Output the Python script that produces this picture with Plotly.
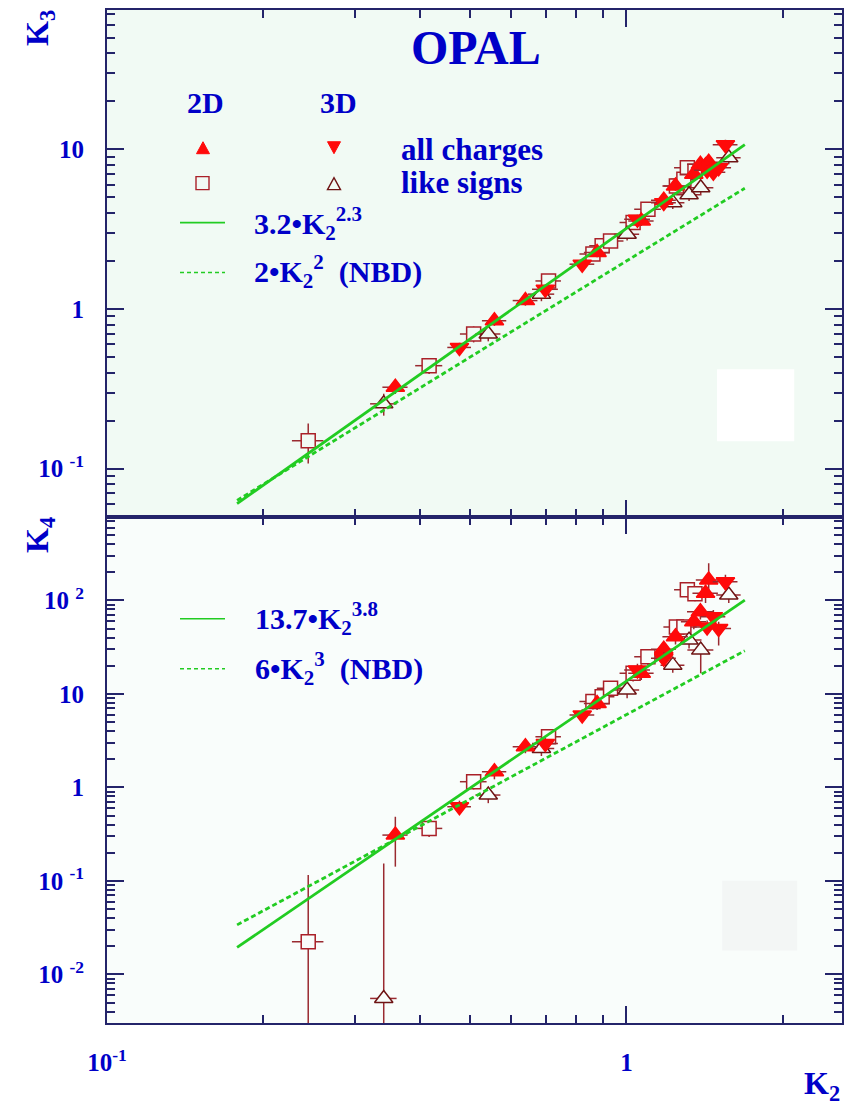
import plotly.graph_objects as go

# ---------------- data ----------------
# 2D, all charges (filled up-triangles)
a_k2 = [0.359, 0.557, 0.639, 0.878, 1.068, 1.18, 1.243, 1.348, 1.388, 1.42, 1.44]
a_k2_err = [0.020, 0.030, 0.035, 0.050, 0.060, 0.065, 0.070, 0.075, 0.080, 0.080, 0.080]
a_k3 = [0.324, 0.845, 1.13, 2.26, 3.56, 4.8, 5.9, 7.0, 8.06, 7.9, 8.3]
a_k3_err = [0.03, 0.06, 0.08, 0.15, 0.25, 0.35, 0.40, 0.50, 0.60, 0.60, 0.60]
a_k4 = [0.309, 1.47, 2.72, 7.91, 16.6, 30.0, 40.8, 59.0, 75.5, 119.0, 165.0]
a_k4_up = [0.176, 0.25, 0.40, 1.2, 2.5, 5.0, 7.0, 10.0, 13.0, 25.0, 85.0]
a_k4_dn = [0.167, 0.25, 0.40, 1.2, 2.5, 5.0, 7.0, 10.0, 13.0, 25.0, 40.0]

# 3D, all charges (filled down-triangles)
b_k2 = [0.477, 0.698, 0.822, 1.05, 1.18, 1.43, 1.47, 1.505, 1.551]
b_k2_err = [0.025, 0.040, 0.045, 0.060, 0.065, 0.080, 0.080, 0.085, 0.085]
b_k3 = [0.575, 1.33, 1.91, 3.65, 4.64, 7.4, 7.2, 7.67, 10.7]
b_k3_err = [0.04, 0.09, 0.13, 0.25, 0.33, 0.50, 0.50, 0.55, 0.80]
b_k4 = [0.621, 2.95, 5.93, 18.0, 24.0, 52.0, 67.0, 50.0, 158.0]
b_k4_up = [0.10, 0.45, 0.9, 3.0, 4.0, 9.0, 12.0, 9.0, 30.0]
b_k4_dn = [0.10, 0.45, 0.9, 3.0, 4.0, 9.0, 12.0, 17.0, 30.0]

# 2D, like signs (open squares)
c_k2 = [0.244, 0.417, 0.508, 0.708, 0.862, 0.898, 0.932, 1.03, 1.10, 1.248, 1.29, 1.31, 1.355]
c_k2_err = [0.017, 0.025, 0.030, 0.040, 0.050, 0.050, 0.055, 0.060, 0.065, 0.070, 0.075, 0.075, 0.080]
c_k3 = [0.150, 0.442, 0.698, 1.50, 2.21, 2.49, 2.67, 3.48, 4.22, 5.90, 6.49, 7.67, 7.3]
c_k3_err = [0.042, 0.05, 0.08, 0.15, 0.20, 0.22, 0.24, 0.30, 0.35, 0.50, 0.55, 0.65, 0.60]
c_k4 = [0.0223, 0.364, 1.15, 3.48, 8.3, 9.31, 11.5, 16.6, 24.9, 52.0, 52.0, 130.0, 118.0]
c_k4_up = [0.093, 0.07, 0.20, 0.6, 1.5, 1.6, 2.0, 3.0, 4.5, 9.0, 9.0, 22.0, 20.0]
c_k4_dn = [0.0222, 0.07, 0.20, 0.6, 1.5, 1.6, 2.0, 3.0, 4.5, 9.0, 9.0, 22.0, 20.0]

# 3D, like signs (open up-triangles)
d_k2 = [0.341, 0.542, 0.686, 1.003, 1.228, 1.32, 1.39, 1.574]
d_k2_err = [0.020, 0.030, 0.040, 0.055, 0.065, 0.075, 0.080, 0.085]
d_k3 = [0.255, 0.698, 1.24, 2.94, 4.64, 5.2, 5.75, 8.86]
d_k3_err = [0.04, 0.07, 0.12, 0.25, 0.40, 0.45, 0.50, 0.80]
d_k4 = [0.00553, 0.828, 2.61, 11.0, 20.3, 37.6, 29.4, 114.0]
d_k4_up = [0.148, 0.15, 0.45, 2.0, 3.5, 7.0, 6.0, 20.0]
d_k4_dn = [0.0055, 0.15, 0.45, 2.0, 3.5, 7.0, 12.8, 20.0]

# fitted / NBD curves: coefficient, exponent
fit_k3 = (3.2, 2.3)
nbd_k3 = (2.0, 2.0)
fit_k4 = (13.7, 3.8)
nbd_k4 = (6.0, 3.0)
curve_k2 = [0.178, 1.69]

# axis ticks
x_ticks = [0.1, 1]
x_ticktext = ["10<sup>-1</sup>", "1"]
y3_ticks = [0.1, 1, 10]
y3_ticktext = ["10 <sup>-1</sup>", "1", "10"]
y4_ticks = [0.01, 0.1, 1, 10, 100]
y4_ticktext = ["10 <sup>-2</sup>", "10 <sup>-1</sup>", "1", "10", "10 <sup>2</sup>"]

# ---------------- style ----------------
TOP_BG = "#f1faf4"
BOT_BG = "#f9fdfb"
RED = "#ff0a0a"
SQ = "#aa2028"
TRI = "#6e1414"
ERR = "#9a2a30"
GREEN = "#22cc22"
BLUE = "#0000c8"
AXC = "#24246a"
FONT = "Liberation Serif"

W, H = 854, 1105
L, R, T, B = 107, 12, 8, 82
PW, PH = W - L - R, H - T - B


def xp(px):
    return (px - L) / PW


def yp(py):
    return (H - B - py) / PH


fig = go.Figure()


def add_series(k2, k2e, yv, yup, ydn, xa, ya, symbol, fill, lc, size):
    fig.add_trace(go.Scatter(
        x=k2, y=yv, mode="markers", xaxis=xa, yaxis=ya,
        error_x=dict(type="data", array=k2e, color=ERR, thickness=1.5, width=0),
        error_y=dict(type="data", array=yup, arrayminus=ydn, color=ERR, thickness=1.5, width=0),
        marker=dict(symbol=symbol, size=size, color=fill, line=dict(color=lc, width=1.5)),
        showlegend=False, hoverinfo="skip"))


# top panel (K3)
add_series(c_k2, c_k2_err, c_k3, c_k3_err, c_k3_err, "x2", "y2", "square", TOP_BG, SQ, 14)
add_series(d_k2, d_k2_err, d_k3, d_k3_err, d_k3_err, "x2", "y2", "triangle-up", TOP_BG, TRI, 16)
add_series(a_k2, a_k2_err, a_k3, a_k3_err, a_k3_err, "x2", "y2", "triangle-up", RED, RED, 16)
add_series(b_k2, b_k2_err, b_k3, b_k3_err, b_k3_err, "x2", "y2", "triangle-down", RED, RED, 16)

# bottom panel (K4)
add_series(c_k2, c_k2_err, c_k4, c_k4_up, c_k4_dn, "x", "y", "square", BOT_BG, SQ, 14)
add_series(d_k2, d_k2_err, d_k4, d_k4_up, d_k4_dn, "x", "y", "triangle-up", BOT_BG, TRI, 16)
add_series(a_k2, a_k2_err, a_k4, a_k4_up, a_k4_dn, "x", "y", "triangle-up", RED, RED, 16)
add_series(b_k2, b_k2_err, b_k4, b_k4_up, b_k4_dn, "x", "y", "triangle-down", RED, RED, 16)


def add_curve(par, xa, ya, dash):
    c, p = par
    fig.add_trace(go.Scatter(
        x=curve_k2, y=[c * k ** p for k in curve_k2], mode="lines", xaxis=xa, yaxis=ya,
        line=dict(color=GREEN, width=2.8, dash=dash),
        showlegend=False, hoverinfo="skip"))


add_curve(fit_k3, "x2", "y2", "solid")
add_curve(nbd_k3, "x2", "y2", "5px,3px")
add_curve(fit_k4, "x", "y", "solid")
add_curve(nbd_k4, "x", "y", "5px,3px")


def minor_vals(lo_exp, hi_exp, vmin, vmax):
    out = []
    for e in range(lo_exp, hi_exp + 1):
        for m in range(2, 10):
            v = m * 10.0 ** e
            if vmin < v < vmax:
                out.append(v)
    return out


axis_common = dict(
    type="log", showgrid=False, zeroline=False, showline=True, linecolor=AXC, linewidth=2,
    ticks="inside", ticklen=17, tickwidth=1.5, tickcolor=AXC, mirror="ticks",
    tickmode="array",
    tickfont=dict(family=FONT, size=25, color=BLUE, weight="bold"),
)

xrange = [-1.0, 0.415]
x_minor = dict(tickmode="array", tickvals=minor_vals(-1, 0, 0.1, 2.6), ticks="inside",
               ticklen=8, tickwidth=1.5, tickcolor=AXC, showgrid=False)

fig.update_layout(
    width=W, height=H,
    margin=dict(l=L, r=R, t=T, b=B),
    paper_bgcolor="white", plot_bgcolor="rgba(0,0,0,0)",
    showlegend=False,
    xaxis=dict(axis_common, domain=[0, 1], anchor="y", range=xrange,
               tickvals=x_ticks, ticktext=x_ticktext, ticklabelstandoff=16, minor=x_minor),
    xaxis2=dict(axis_common, domain=[0, 1], anchor="y2", range=xrange, matches="x",
                tickvals=x_ticks, ticktext=x_ticktext, showticklabels=False, minor=x_minor),
    yaxis=dict(axis_common, domain=[0, 0.4997], anchor="x", range=[-2.52, 2.894],
               tickvals=y4_ticks, ticktext=y4_ticktext, ticklabelstandoff=16,
               minor=dict(tickmode="array", tickvals=minor_vals(-3, 2, 0.003, 790), ticks="inside",
                          ticklen=8, tickwidth=1.5, tickcolor=AXC, showgrid=False)),
    yaxis2=dict(axis_common, domain=[0.4997, 1], anchor="x2", range=[-1.301, 1.873],
                tickvals=y3_ticks, ticktext=y3_ticktext, ticklabelstandoff=16,
                minor=dict(tickmode="array", tickvals=minor_vals(-2, 1, 0.05, 75), ticks="inside",
                           ticklen=8, tickwidth=1.5, tickcolor=AXC, showgrid=False)),
)

shapes = [
    dict(type="rect", xref="x2 domain", yref="y2 domain", x0=0, x1=1, y0=0, y1=1,
         fillcolor=TOP_BG, line=dict(width=0), layer="below"),
    dict(type="rect", xref="x domain", yref="y domain", x0=0, x1=1, y0=0, y1=1,
         fillcolor=BOT_BG, line=dict(width=0), layer="below"),
    # faint patches visible in the scan
    dict(type="rect", xref="x2 domain", yref="y2 domain", x0=0.830, x1=0.935, y0=0.149, y1=0.291,
         fillcolor="#ffffff", line=dict(width=0), layer="below"),
    dict(type="rect", xref="x domain", yref="y domain", x0=0.837, x1=0.939, y0=0.143, y1=0.281,
         fillcolor="#f3f6f5", line=dict(width=0), layer="below"),
]


# legend line samples
def leg_line(py, dash):
    return dict(type="line", xref="paper", yref="paper", x0=xp(180), x1=xp(225), y0=yp(py), y1=yp(py),
                line=dict(color=GREEN, width=1.6, dash=dash))


shapes += [leg_line(221, "solid"), leg_line(271, "4px,3px"), leg_line(618, "solid"), leg_line(668, "4px,3px")]


def tri_path(cx, cy, w, h, up=True):
    if up:
        pts = [(cx - w / 2, cy + h / 2), (cx + w / 2, cy + h / 2), (cx, cy - h / 2)]
    else:
        pts = [(cx - w / 2, cy - h / 2), (cx + w / 2, cy - h / 2), (cx, cy + h / 2)]
    return "M " + " L ".join(f"{xp(a):.5f},{yp(b):.5f}" for a, b in pts) + " Z"


shapes += [
    dict(type="path", xref="paper", yref="paper", path=tri_path(203, 146, 13, 12, True),
         fillcolor=RED, line=dict(color=RED, width=1)),
    dict(type="path", xref="paper", yref="paper", path=tri_path(334, 146, 13, 12, False),
         fillcolor=RED, line=dict(color=RED, width=1)),
    dict(type="rect", xref="paper", yref="paper", x0=xp(196), x1=xp(209), y0=yp(188), y1=yp(175),
         fillcolor=TOP_BG, line=dict(color=SQ, width=1.4)),
    dict(type="path", xref="paper", yref="paper", path=tri_path(334, 182, 13, 12, True),
         fillcolor=TOP_BG, line=dict(color=TRI, width=1.4)),
]
fig.update_layout(shapes=shapes)


def txt(text, px, py, size, xanchor="center", angle=0):
    fig.add_annotation(text=text, x=xp(px), y=yp(py), xref="paper", yref="paper",
                       xanchor=xanchor, yanchor="middle", showarrow=False, textangle=angle,
                       font=dict(family=FONT, size=size, color=BLUE, weight="bold"))


txt("OPAL", 476, 46, 48)
txt("2D", 205, 101, 30)
txt("3D", 338, 101, 30)
txt("all charges", 399, 148, 31, "left")
txt("like signs", 399, 181, 31, "left")
txt("3.2•K<sub>2</sub><sup>2.3</sup>", 252, 222, 30, "left")
txt("2•K<sub>2</sub><sup>2</sup>  (NBD)", 252, 270, 30, "left")
txt("13.7•K<sub>2</sub><sup>3.8</sup>", 253, 618, 30, "left")
txt("6•K<sub>2</sub><sup>3</sup>  (NBD)", 253, 668, 30, "left")
txt("K<sub>3</sub>", 40, 26, 32, angle=-90)
txt("K<sub>4</sub>", 40, 534, 32, angle=-90)
txt("K<sub>2</sub>", 822, 1086, 32)

fig.write_html(
    "out.html",
    config={"displayModeBar": False},
    post_script="document.body.style.margin='0';document.body.style.overflow='hidden';",
)
